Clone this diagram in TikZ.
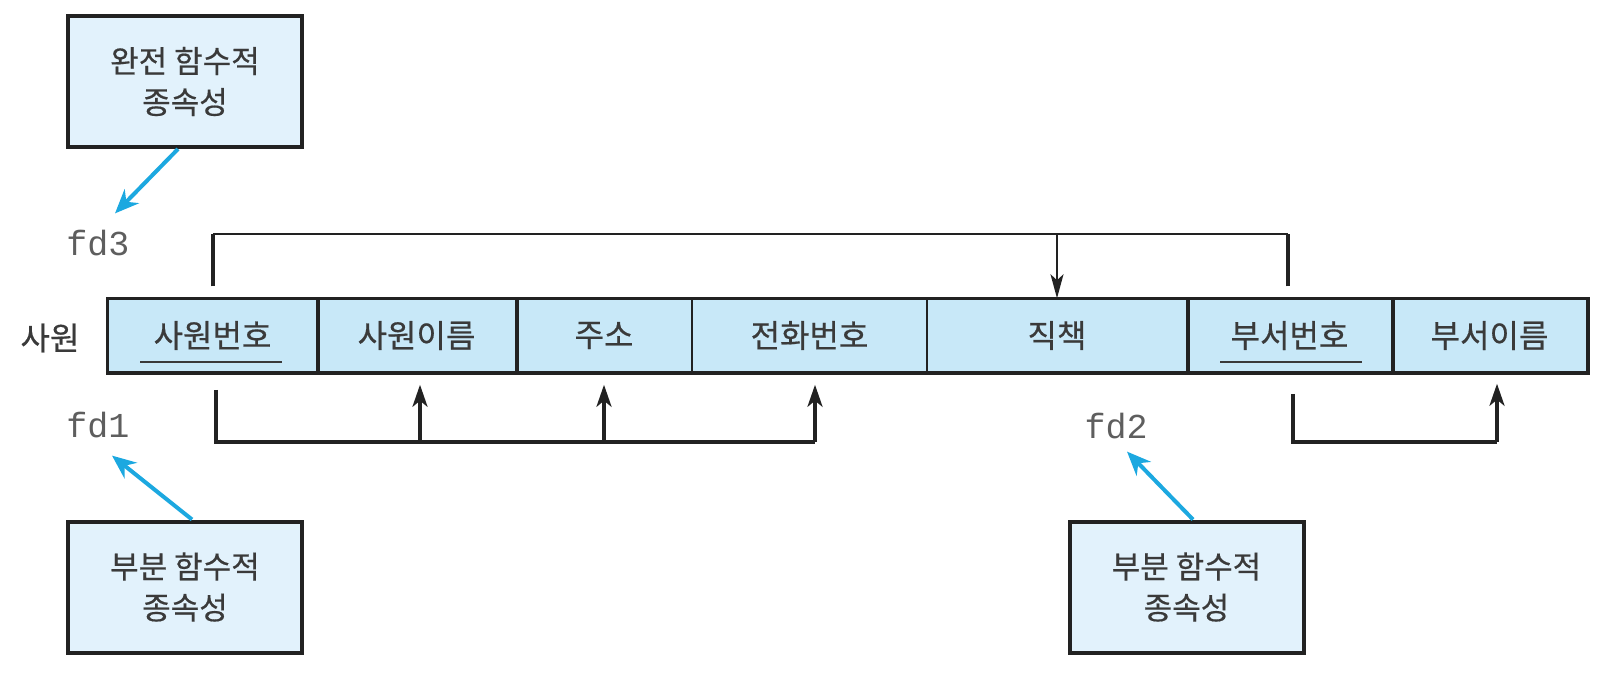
\documentclass[tikz,border=0pt]{standalone}
\usepackage{fontspec}
\newfontfamily\kr[FakeBold=0.5]{Noto Sans CJK KR}
\newfontfamily\mono{Liberation Mono}
\usetikzlibrary{arrows.meta,calc}
\definecolor{cellblue}{HTML}{C8E8F8}
\definecolor{boxblue}{HTML}{E2F2FC}
\definecolor{arrowblue}{HTML}{1CA8E0}
\definecolor{txt}{HTML}{3A3A3A}
\definecolor{fdgray}{HTML}{5E5E5E}
\definecolor{linec}{HTML}{222222}
\begin{document}
\begin{tikzpicture}[x=1pt,y=-1pt,
 cell/.style={draw=linec, line width=1.5pt, fill=cellblue, minimum height=73pt, inner sep=0pt, font=\kr\fontsize{32}{36}\selectfont, text=txt},
 fdbox/.style={draw=linec, line width=4pt, fill=boxblue, minimum width=234pt, minimum height=131pt, align=center, font=\kr\fontsize{31}{41}\selectfont, text=txt},
 fdlabel/.style={inner sep=0pt, font=\mono\fontsize{35}{40}\selectfont, text=fdgray},
 bluearrow/.style={draw=arrowblue, line width=4pt, -{Stealth[length=24pt,width=20pt]}},
 bracket/.style={draw=linec, line width=3.5pt},
 thinbracket/.style={draw=linec, line width=2pt},
 upline/.style={draw=linec, line width=3.5pt, -{Stealth[length=22pt,width=15pt,inset=6pt]}},
 downline/.style={draw=linec, line width=2pt, -{Stealth[length=24pt,width=13pt,inset=6pt]}},
 keyline/.style={draw=txt, line width=2pt},
 thickdiv/.style={draw=linec, line width=3.5pt},
]
\useasboundingbox (0,0) rectangle (1618,674);

% table cells
\node[cell, minimum width=209pt] (c1) at (212.5,335.5) {사원번호};
\node[cell, minimum width=199pt] (c2) at (416.5,335.5) {사원이름};
\node[cell, minimum width=176pt] (c3) at (604,335.5) {주소};
\node[cell, minimum width=235pt] (c4) at (809.5,335.5) {전화번호};
\node[cell, minimum width=260pt] (c5) at (1057,335.5) {직책};
\node[cell, minimum width=205pt] (c6) at (1289.5,335.5) {부서번호};
\node[cell, minimum width=195pt] (c7) at (1489.5,335.5) {부서이름};
\draw[thickdiv] (c1.north west) rectangle (c7.south east);
\draw[thickdiv] (c1.north east) -- (c1.south east);
\draw[thickdiv] (c2.north east) -- (c2.south east);
\draw[thickdiv] (c5.north east) -- (c5.south east);
\draw[thickdiv] (c6.north east) -- (c6.south east);
\draw[keyline] (140,362) -- (282,362);
\draw[keyline] (1220,362) -- (1362,362);
\node[inner sep=0pt, font=\kr\fontsize{32}{36}\selectfont, text=txt] (rel) at (50,338) {사원};

% fd boxes
\node[fdbox] (b3) at (185,81.5) {완전 함수적\\종속성};
\node[fdbox] (b1) at (185,587) {부분 함수적\\종속성};
\node[fdbox] (b2) at (1186.5,587) {부분 함수적\\종속성};

% fd labels
\node[fdlabel] (fd3) at (98,243.5) {fd3};
\node[fdlabel] (fd1) at (98,425.5) {fd1};
\node[fdlabel] (fd2) at (1116,426.5) {fd2};

% blue arrows
\draw[bluearrow] ([xshift=-7pt]b3.south) -- ([xshift=17pt,yshift=17pt]fd3.north);
\draw[bluearrow] ([xshift=7pt]b1.north) -- ([xshift=14pt,yshift=-17pt]fd1.south);
\draw[bluearrow] ([xshift=6.5pt]b2.north) -- ([xshift=11pt,yshift=-12pt]fd2.south);

% fd3 bracket (upper)
\coordinate (ut) at (0,234);
\coordinate (ul) at ([xshift=0.5pt,yshift=12pt]c1.north);
\coordinate (ur) at ([xshift=-1.5pt,yshift=12pt]c6.north);
\draw[bracket] (ul) -- (ul |- ut);
\draw[bracket] (ur) -- (ur |- ut);
\draw[thinbracket] (ul |- ut) -- (ur |- ut);
\draw[downline] (c5.north |- ut) -- (c5.north);

% fd1 bracket (lower)
\coordinate (lb) at (0,442);
\coordinate (l1) at ([xshift=3.5pt,yshift=-17pt]c1.south);
\draw[bracket] (l1) |- ([xshift=5.5pt]c4.south |- lb);
\draw[upline] ([xshift=3.5pt]c2.south |- lb) -- ([xshift=3.5pt,yshift=-12pt]c2.south);
\draw[upline] (c3.south |- lb) -- ([yshift=-12pt]c3.south);
\draw[upline] ([xshift=5.5pt]c4.south |- lb) -- ([xshift=5.5pt,yshift=-12pt]c4.south);

% fd2 bracket (lower right)
\coordinate (l6) at ([xshift=3.5pt,yshift=-21pt]c6.south);
\draw[bracket] (l6) |- ([xshift=7.5pt]c7.south |- lb);
\draw[upline] ([xshift=7.5pt]c7.south |- lb) -- ([xshift=7.5pt,yshift=-11pt]c7.south);
\end{tikzpicture}
\end{document}
